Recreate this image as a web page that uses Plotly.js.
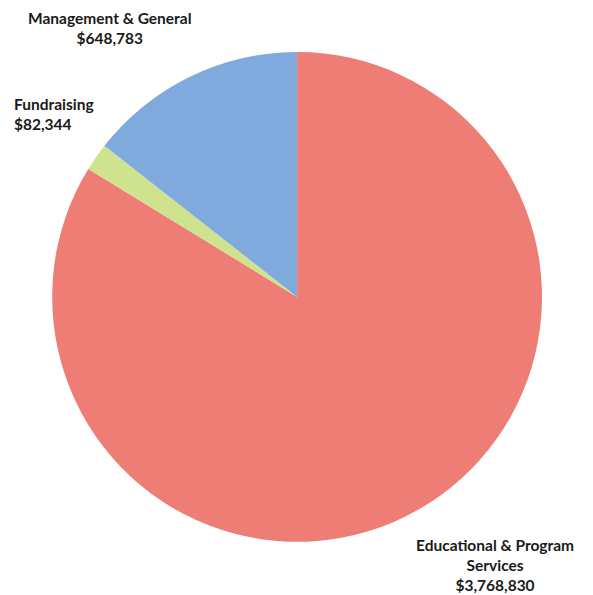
<!DOCTYPE html>
<html><head><meta charset="utf-8">
<script src="https://cdn.plot.ly/plotly-3.0.1.min.js"></script>
<style>html,body{margin:0;padding:0;background:#fff;}#chart{width:593px;height:595px;}</style>
</head><body><div id="chart"></div>
<script>
const categories = ["Educational & Program Services", "Fundraising", "Management & General"];
const amounts = [3768830, 82344, 648783];
const labelLines = [["Educational & Program", "Services", "$3,768,830"], ["Fundraising", "$82,344"], ["Management & General", "$648,783"]];
const colors = ["#EE7D76", "#CFE38F", "#80AADD"];

const data = [{
  type: "pie",
  labels: categories,
  values: amounts,
  sort: false,
  direction: "clockwise",
  rotation: 0,
  textinfo: "none",
  hoverinfo: "label+value",
  marker: {colors: colors, line: {width: 0}},
  domain: {x: [0.088, 0.914], y: [0.088, 0.914]}
}];

const font = {family: "Lato, 'Open Sans', sans-serif", size: 15.5, color: "#1a1a1a", weight: 700};
const annotations = [
  {x: 495/593, y: 1 - 565/595, text: labelLines[0].join("<br>"), align: "center"},
  {x: 12/593, y: 1 - 114/595, text: labelLines[1].join("<br>"), align: "left", xanchor: "left"},
  {x: 110/593, y: 1 - 28/595, text: labelLines[2].join("<br>"), align: "center"}
].map(a => Object.assign({xref: "paper", yref: "paper", showarrow: false, xanchor: "center", yanchor: "middle", font: font}, a));

const layout = {
  width: 593, height: 595,
  margin: {l: 0, r: 0, t: 0, b: 0},
  paper_bgcolor: "#ffffff",
  showlegend: false,
  annotations: annotations
};
Plotly.newPlot("chart", data, layout, {displayModeBar: false, staticPlot: true});
</script></body></html>
